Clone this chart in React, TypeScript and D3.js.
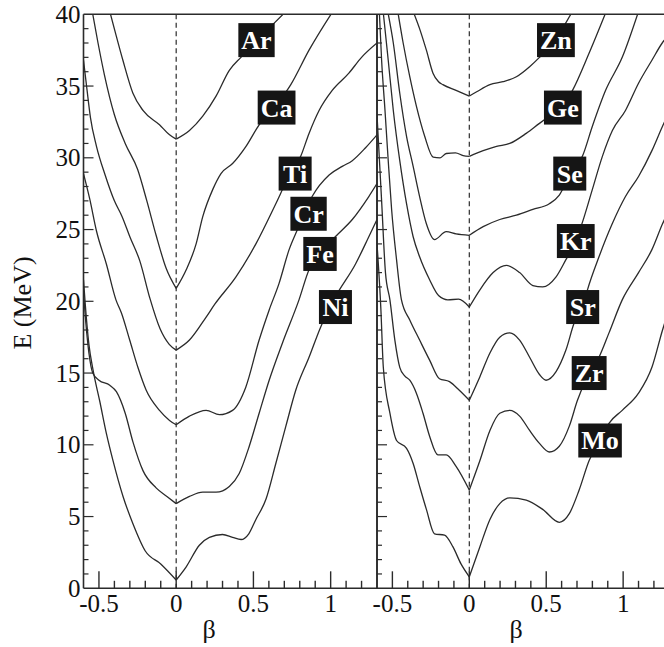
import React from "react";
import * as d3 from "d3";

type Pt = [number, number];

// Potential energy curves E(β) in MeV, left panel (Ar … Ni)
const ar: Pt[] = [[-0.43, 40.2], [-0.398, 38.9], [-0.345, 36.8], [-0.28, 34.5], [-0.215, 33.3], [-0.108, 32.3], [-0.043, 31.6], [0, 31.3], [0.086, 31.9], [0.172, 32.9], [0.258, 34.3], [0.344, 36.1], [0.419, 37.0], [0.52, 38.1], [0.636, 39.4], [0.72, 40.3]];
const ca: Pt[] = [[-0.545, 40.3], [-0.506, 38.0], [-0.465, 35.8], [-0.4, 33.0], [-0.33, 31.0], [-0.25, 29.2], [-0.19, 27.0], [-0.13, 24.6], [-0.065, 22.3], [0, 20.9], [0.065, 22.2], [0.129, 24.0], [0.172, 25.9], [0.237, 27.8], [0.29, 28.9], [0.365, 29.6], [0.452, 30.8], [0.537, 32.3], [0.65, 33.7], [0.742, 35.1], [0.86, 37.5], [1.02, 40.3]];
const ti: Pt[] = [[-0.6, 36.8], [-0.578, 34.8], [-0.555, 32.8], [-0.516, 30.8], [-0.46, 28.8], [-0.4, 27.0], [-0.35, 25.9], [-0.3, 24.5], [-0.235, 22.8], [-0.17, 20.2], [-0.105, 18.1], [-0.045, 17.0], [0, 16.6], [0.086, 17.3], [0.194, 18.9], [0.25, 19.8], [0.387, 21.7], [0.516, 24.0], [0.645, 26.8], [0.72, 28.5], [0.806, 30.1], [0.86, 31.7], [0.925, 33.3], [1.01, 34.7], [1.118, 35.9], [1.2, 37.0], [1.3, 38.0]];
const cr: Pt[] = [[-0.6, 28.9], [-0.559, 27.1], [-0.516, 24.9], [-0.452, 22.6], [-0.39, 20.1], [-0.355, 19.2], [-0.301, 17.3], [-0.248, 15.4], [-0.194, 13.8], [-0.108, 12.4], [-0.043, 11.7], [0, 11.4], [0.086, 12.0], [0.194, 12.4], [0.28, 12.1], [0.365, 12.4], [0.45, 14.0], [0.537, 17.3], [0.602, 19.4], [0.666, 21.25], [0.731, 23.6], [0.785, 25.0], [0.88, 27.3], [0.99, 28.8], [1.075, 29.4], [1.14, 29.8], [1.226, 30.7], [1.3, 31.6]];
const fe: Pt[] = [[-0.6, 20.6], [-0.585, 18.5], [-0.565, 16.4], [-0.54, 15.0], [-0.5, 14.5], [-0.43, 14.15], [-0.387, 13.7], [-0.33, 12.2], [-0.28, 10.2], [-0.215, 8.2], [-0.13, 7.0], [-0.06, 6.4], [0, 5.9], [0.086, 6.4], [0.172, 6.7], [0.258, 6.7], [0.344, 7.1], [0.408, 8.0], [0.473, 9.9], [0.537, 12.2], [0.602, 14.5], [0.688, 17.1], [0.795, 20.1], [0.86, 22.2], [0.93, 23.3], [1.03, 24.5], [1.14, 25.7], [1.247, 27.3], [1.3, 28.2]];
const ni: Pt[] = [[-0.6, 21.5], [-0.59, 20.0], [-0.565, 17.0], [-0.538, 15.2], [-0.494, 13.0], [-0.452, 10.8], [-0.409, 8.9], [-0.344, 6.4], [-0.28, 4.5], [-0.2, 2.6], [-0.1, 1.7], [0, 0.58], [0.065, 1.5], [0.15, 3.0], [0.215, 3.55], [0.3, 3.75], [0.365, 3.55], [0.42, 3.4], [0.47, 3.8], [0.516, 4.8], [0.581, 6.2], [0.645, 8.7], [0.71, 11.3], [0.774, 13.8], [0.86, 16.1], [0.935, 18.2], [1.03, 20.3], [1.161, 22.6], [1.247, 24.5], [1.3, 25.7]];

// Right panel (Zn … Mo)
const zn: Pt[] = [[-0.365, 40.2], [-0.32, 38.9], [-0.279, 37.5], [-0.236, 35.9], [-0.2, 35.3], [-0.172, 35.1], [-0.086, 34.7], [0, 34.3], [0.048, 34.6], [0.134, 35.1], [0.219, 35.3], [0.306, 35.65], [0.392, 36.35], [0.456, 37.0], [0.563, 38.3], [0.67, 40.2]];
const ge: Pt[] = [[-0.465, 40.2], [-0.43, 38.0], [-0.387, 35.65], [-0.344, 33.6], [-0.29, 31.5], [-0.235, 30.05], [-0.19, 30.0], [-0.15, 30.3], [-0.09, 30.35], [-0.04, 30.15], [0, 30.1], [0.09, 30.5], [0.177, 30.8], [0.263, 31.0], [0.37, 31.7], [0.456, 32.4], [0.5, 32.75], [0.608, 33.6], [0.671, 34.7], [0.779, 37.3], [0.89, 40.2]];
const se: Pt[] = [[-0.53, 40.2], [-0.494, 38.0], [-0.452, 34.5], [-0.408, 31.5], [-0.365, 29.4], [-0.323, 27.3], [-0.279, 25.4], [-0.226, 24.3], [-0.15, 24.85], [-0.086, 24.7], [0, 24.6], [0.09, 25.2], [0.198, 25.7], [0.306, 26.0], [0.413, 26.4], [0.52, 26.8], [0.585, 27.4], [0.653, 28.8], [0.735, 30.1], [0.8, 32.2], [0.886, 34.7], [0.994, 37.0], [1.1, 40.2]];
const kr: Pt[] = [[-0.56, 40.2], [-0.527, 36.8], [-0.494, 33.3], [-0.452, 29.8], [-0.408, 26.8], [-0.365, 24.5], [-0.323, 23.1], [-0.258, 21.5], [-0.2, 20.4], [-0.14, 20.1], [-0.07, 20.15], [0, 19.6], [0.069, 20.8], [0.155, 22.0], [0.241, 22.5], [0.327, 22.0], [0.413, 21.1], [0.477, 21.0], [0.564, 21.7], [0.628, 22.9], [0.692, 24.2], [0.735, 25.5], [0.8, 27.8], [0.865, 30.1], [0.93, 31.9], [1.015, 33.3], [1.1, 35.2], [1.187, 36.8], [1.254, 38.0], [1.3, 38.6]];
const sr: Pt[] = [[-0.585, 40.2], [-0.57, 36.8], [-0.548, 33.3], [-0.527, 29.8], [-0.505, 26.4], [-0.473, 22.9], [-0.441, 20.1], [-0.387, 18.7], [-0.323, 17.3], [-0.258, 15.9], [-0.194, 14.6], [-0.129, 14.4], [-0.065, 13.8], [0, 13.1], [0.069, 14.75], [0.134, 16.4], [0.198, 17.5], [0.263, 17.8], [0.327, 17.3], [0.392, 16.1], [0.456, 14.9], [0.499, 14.5], [0.564, 15.1], [0.628, 16.6], [0.682, 18.5], [0.737, 19.6], [0.768, 20.8], [0.843, 23.1], [0.929, 25.4], [1.015, 27.3], [1.1, 28.7], [1.187, 30.5], [1.256, 32.2], [1.3, 33.2]];
const zr: Pt[] = [[-0.6, 33.0], [-0.57, 27.0], [-0.545, 22.0], [-0.516, 20.1], [-0.484, 17.3], [-0.452, 15.4], [-0.42, 14.8], [-0.387, 14.5], [-0.344, 13.6], [-0.301, 12.2], [-0.258, 10.6], [-0.204, 9.3], [-0.15, 9.3], [-0.086, 8.5], [0, 6.85], [0.069, 8.9], [0.134, 11.0], [0.198, 12.2], [0.263, 12.4], [0.327, 12.0], [0.392, 11.0], [0.456, 10.1], [0.521, 9.5], [0.585, 9.9], [0.65, 11.3], [0.703, 13.1], [0.779, 15.0], [0.843, 16.1], [0.908, 17.8], [0.994, 20.1], [1.1, 22.0], [1.187, 23.6], [1.256, 25.4], [1.3, 26.4]];
const mo: Pt[] = [[-0.6, 24.0], [-0.575, 19.5], [-0.559, 15.4], [-0.516, 12.2], [-0.473, 10.3], [-0.408, 9.75], [-0.365, 8.7], [-0.323, 7.1], [-0.279, 5.5], [-0.226, 3.8], [-0.161, 3.7], [-0.107, 2.9], [-0.054, 1.7], [0, 0.8], [0.069, 2.9], [0.134, 4.8], [0.198, 5.9], [0.263, 6.3], [0.37, 6.15], [0.477, 5.5], [0.585, 4.6], [0.65, 5.2], [0.714, 6.85], [0.779, 8.9], [0.85, 10.3], [0.908, 11.5], [0.994, 12.4], [1.1, 13.6], [1.187, 15.4], [1.256, 18.0], [1.3, 19.5]];

// Element names and the (β, E) centre of each name tag
const leftNames = ["Ar", "Ca", "Ti", "Cr", "Fe", "Ni"];
const leftCurves = [ar, ca, ti, cr, fe, ni];
const leftTags: Pt[] = [[0.52, 38.2], [0.65, 33.5], [0.77, 28.9], [0.857, 26.1], [0.931, 23.3], [1.031, 19.6]];

const rightNames = ["Zn", "Ge", "Se", "Kr", "Sr", "Zr", "Mo"];
const rightCurves = [zn, ge, se, kr, sr, zr, mo];
const rightTags: Pt[] = [[0.563, 38.2], [0.608, 33.5], [0.653, 28.9], [0.692, 24.2], [0.737, 19.6], [0.779, 15.0], [0.85, 10.3]];

const betaDomain: Pt = [-0.6, 1.3];
const energyDomain: Pt = [0, 40];
const betaTickLabels = [-0.5, 0, 0.5, 1];
const energyTickLabels = [0, 5, 10, 15, 20, 25, 30, 35, 40];

const W = 664;
const H = 647;
const TOP = 14.3;
const BOTTOM = 588.3;
const INK = "#2b2b2b";
const SERIF = "'Liberation Serif', Tinos, 'Times New Roman', Times, serif";

const measure = (() => {
  let ctx: CanvasRenderingContext2D | null = null;
  return (s: string, font: string) => {
    if (!ctx) ctx = document.createElement("canvas").getContext("2d");
    if (!ctx) return s.length * 15;
    ctx.font = font;
    return ctx.measureText(s).width;
  };
})();

const txt = (size: number, weight: string = "normal"): React.CSSProperties => ({
  fontFamily: SERIF,
  fontSize: `${size}px`,
  fontWeight: weight as any,
});

function Panel({ id, x0, x1, curves, names, tags, showYLabels }: {
  id: string; x0: number; x1: number; curves: Pt[][]; names: string[]; tags: Pt[]; showYLabels: boolean;
}) {
  const x = d3.scaleLinear().domain(betaDomain).range([x0, x1]);
  const y = d3.scaleLinear().domain(energyDomain).range([BOTTOM, TOP]);
  const line = d3.line<Pt>().x((d) => x(d[0])).y((d) => y(d[1])).curve(d3.curveMonotoneX);

  const minorX = d3.range(-5, 13).map((i) => i / 10);
  const minorY = d3.range(1, 40);
  const tagFont = `bold 26px ${SERIF}`;

  return (
    <g>
      <defs>
        <clipPath id={id}>
          <rect x={x0} y={TOP} width={x1 - x0} height={BOTTOM - TOP} />
        </clipPath>
      </defs>
      <g clipPath={`url(#${id})`}>
        <line x1={x(0)} x2={x(0)} y1={TOP} y2={BOTTOM} stroke={INK} strokeWidth={1.2} strokeDasharray="5,3.5" />
        {curves.map((c, i) => (
          <g key={i}>
            <path d={line(c.filter((d) => d[0] <= 0)) || ""} fill="none" stroke={INK} strokeWidth={1.3} />
            <path d={line(c.filter((d) => d[0] >= 0)) || ""} fill="none" stroke={INK} strokeWidth={1.3} />
          </g>
        ))}
        {names.map((n, i) => {
          const w = Math.max(33, measure(n, tagFont) + 6);
          const h = 34;
          const cx = x(tags[i][0]);
          const cy = y(tags[i][1]);
          return (
            <g key={n}>
              <rect x={cx - w / 2} y={cy - h / 2} width={w} height={h} fill="#151515" />
              <text x={cx} y={cy + 9} textAnchor="middle" fill="#fff" style={txt(26, "bold")}>{n}</text>
            </g>
          );
        })}
      </g>
      {minorX.map((t) => {
        const major = Math.abs(t * 2 - Math.round(t * 2)) < 1e-6;
        return <line key={`x${t}`} x1={x(t)} x2={x(t)} y1={BOTTOM} y2={BOTTOM - (major ? 17 : 7.5)} stroke={INK} strokeWidth={1.4} />;
      })}
      {minorY.map((t) => {
        const major = t % 5 === 0;
        return <line key={`y${t}`} x1={x0} x2={x0 + (major ? 10 : 5)} y1={y(t)} y2={y(t)} stroke={INK} strokeWidth={1.2} />;
      })}
      {betaTickLabels.map((t) => (
        <text key={`xl${t}`} x={x(t)} y={612} textAnchor="middle" fill="#111" style={txt(25)}>{t}</text>
      ))}
      {showYLabels && energyTickLabels.map((t) => (
        <text key={`yl${t}`} x={x0 - 3} y={y(t) + 8.5} textAnchor="end" fill="#111" style={txt(25)}>{t}</text>
      ))}
      <line x1={x0} x2={x0} y1={TOP} y2={BOTTOM} stroke={INK} strokeWidth={1.6} />
      <line x1={x0} x2={x1} y1={TOP} y2={TOP} stroke={INK} strokeWidth={1.6} />
      <line x1={x0} x2={x1} y1={BOTTOM} y2={BOTTOM} stroke={INK} strokeWidth={1.6} />
      <line x1={x1} x2={x1} y1={TOP} y2={BOTTOM} stroke={INK} strokeWidth={1.6} />
    </g>
  );
}

export default function App() {
  return (
    <svg width={W} height={H} style={{ position: "absolute", left: 0, top: 0, background: "#fff", fontFamily: SERIF }}>
      <rect width={W} height={H} fill="#fff" />
      <Panel id="clip-left" x0={83.5} x1={377} curves={leftCurves} names={leftNames} tags={leftTags} showYLabels={true} />
      <Panel id="clip-right" x0={377} x1={669.3} curves={rightCurves} names={rightNames} tags={rightTags} showYLabels={false} />
      <text x={209} y={638} textAnchor="middle" fill="#111" style={txt(26)}>β</text>
      <text x={516} y={638} textAnchor="middle" fill="#111" style={txt(26)}>β</text>
      <text transform="translate(31,303) rotate(-90)" textAnchor="middle" fill="#111" style={txt(26)}>E (MeV)</text>
    </svg>
  );
}
